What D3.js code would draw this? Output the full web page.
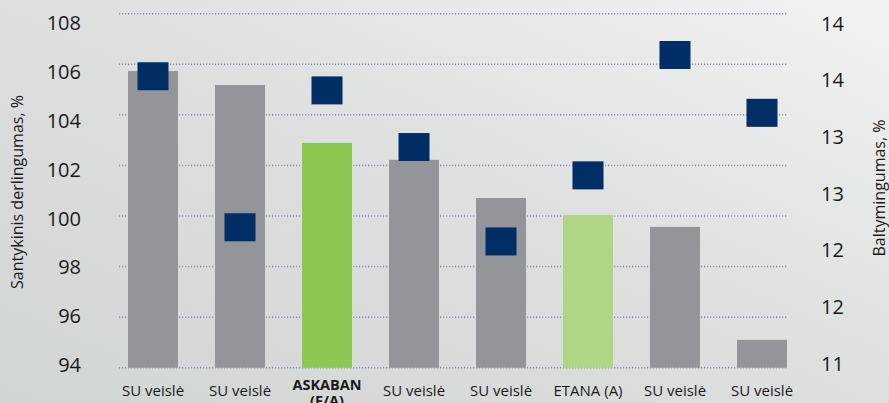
<!DOCTYPE html>
<html>
<head>
<meta charset="utf-8">
<script src="https://cdn.jsdelivr.net/npm/d3@7"></script>
<style>
  body { margin: 0; overflow: hidden; }
  svg { display: block; font-family: "Open Sans", sans-serif; }
</style>
</head>
<body>
<div id="chart"></div>
<script>
// data
var categories = ["SU veislė", "SU veislė", "ASKABAN\n(F/A)", "SU veislė", "SU veislė", "ETANA (A)", "SU veislė", "SU veislė"];
var yieldValues = [105.73, 105.18, 102.89, 102.22, 100.71, 100.04, 99.57, 95.1];
var proteinValues = [13.47, 12.19, 13.35, 12.87, 12.07, 12.63, 13.65, 13.16];
var barKinds = ["su", "su", "askaban", "su", "su", "etana", "su", "su"];
var leftTicks = [94, 96, 98, 100, 102, 104, 106, 108];
var rightTicks = [11, 11.5, 12, 12.5, 13, 13.5, 14];

var width = 889, height = 403;
var colors = { su: "#939598", askaban: "#8cc752", etana: "#b0d585" };

var svg = d3.select("#chart").append("svg")
    .attr("width", width)
    .attr("height", height);

// background
var defs = svg.append("defs");
var grad = defs.append("linearGradient")
    .attr("id", "bg")
    .attr("x1", "0%").attr("y1", "100%")
    .attr("x2", "100%").attr("y2", "0%");
grad.append("stop").attr("offset", "0%").attr("stop-color", "#d1d5d4");
grad.append("stop").attr("offset", "55%").attr("stop-color", "#dfe0e0");
grad.append("stop").attr("offset", "100%").attr("stop-color", "#f2f2f2");
svg.append("rect").attr("width", width).attr("height", height).attr("fill", "url(#bg)");

// scales
var x = d3.scaleBand()
    .domain(d3.range(categories.length))
    .range([109.5, 805.5])
    .paddingInner(37 / 87)
    .paddingOuter(37 / 174);
var yLeft = d3.scaleLinear().domain([94, 108]).range([367.7, 13.7]);
var yRight = d3.scaleLinear().domain([11, 14]).range([367.7, 13.7]);
// tick labels sit slightly off the gridlines in the original
var yLeftLabel = d3.scaleLinear().domain([94, 108]).range([365, 22.8]);
var yRightLabel = d3.scaleLinear().domain([11, 14]).range([363.3, 23.3]);

// gridlines
svg.selectAll(".grid")
    .data(leftTicks)
    .enter().append("line")
    .attr("class", "grid")
    .attr("x1", 119)
    .attr("x2", 788)
    .attr("y1", function(d) { return yLeft(d); })
    .attr("y2", function(d) { return yLeft(d); })
    .attr("stroke", "#8790b5")
    .attr("stroke-width", 1.5)
    .attr("stroke-dasharray", "1.2,1.8");

// bars
svg.selectAll(".bar")
    .data(yieldValues)
    .enter().append("rect")
    .attr("class", "bar")
    .attr("x", function(d, i) { return x(i); })
    .attr("y", function(d) { return yLeft(d); })
    .attr("width", x.bandwidth())
    .attr("height", function(d) { return yLeft(94) - yLeft(d); })
    .attr("fill", function(d, i) { return colors[barKinds[i]]; });

// protein markers
var mw = 31, mh = 28;
svg.selectAll(".marker")
    .data(proteinValues)
    .enter().append("rect")
    .attr("class", "marker")
    .attr("x", function(d, i) { return x(i) + x.bandwidth() / 2 - mw / 2; })
    .attr("y", function(d) { return yRight(d) - mh / 2; })
    .attr("width", mw)
    .attr("height", mh)
    .attr("fill", "#002e65");

// left tick labels
svg.selectAll(".ltick")
    .data(leftTicks)
    .enter().append("text")
    .attr("class", "ltick")
    .attr("x", 81)
    .attr("y", function(d) { return yLeftLabel(d); })
    .attr("dy", "0.36em")
    .style("text-anchor", "end")
    .style("font-size", "20px")
    .attr("fill", "#1a1a1a")
    .text(function(d) { return d; });

// right tick labels
var fmt = d3.format(".0f");
svg.selectAll(".rtick")
    .data(rightTicks)
    .enter().append("text")
    .attr("class", "rtick")
    .attr("x", 821)
    .attr("y", function(d) { return yRightLabel(d); })
    .attr("dy", "0.36em")
    .style("font-size", "20px")
    .attr("fill", "#1a1a1a")
    .text(function(d) { return fmt(d); });

// axis titles
svg.append("text")
    .attr("transform", "translate(23,192) rotate(-90)")
    .style("text-anchor", "middle")
    .style("font-size", "16px")
    .attr("fill", "#1a1a1a")
    .text("Santykinis derlingumas, %");
svg.append("text")
    .attr("transform", "translate(885,188) rotate(-90)")
    .style("text-anchor", "middle")
    .style("font-size", "16px")
    .attr("fill", "#1a1a1a")
    .text("Baltymingumas, %");

// category labels
svg.selectAll(".cat")
    .data(categories)
    .enter().append("text")
    .attr("class", "cat")
    .attr("x", function(d, i) { return x(i) + x.bandwidth() / 2; })
    .attr("y", function(d) { return d.indexOf("\n") >= 0 ? 390 : 396; })
    .style("text-anchor", "middle")
    .style("font-size", function(d) { return d.indexOf("\n") >= 0 ? "14.5px" : "15px"; })
    .style("font-weight", function(d) { return d.indexOf("\n") >= 0 ? "bold" : "normal"; })
    .attr("fill", "#1a1a1a")
    .each(function(d) {
        var lines = d.split("\n");
        var t = d3.select(this);
        lines.forEach(function(l, k) {
            t.append("tspan")
                .attr("x", t.attr("x"))
                .attr("dy", k === 0 ? 0 : "1.08em")
                .text(l);
        });
    });
</script>
</body>
</html>
